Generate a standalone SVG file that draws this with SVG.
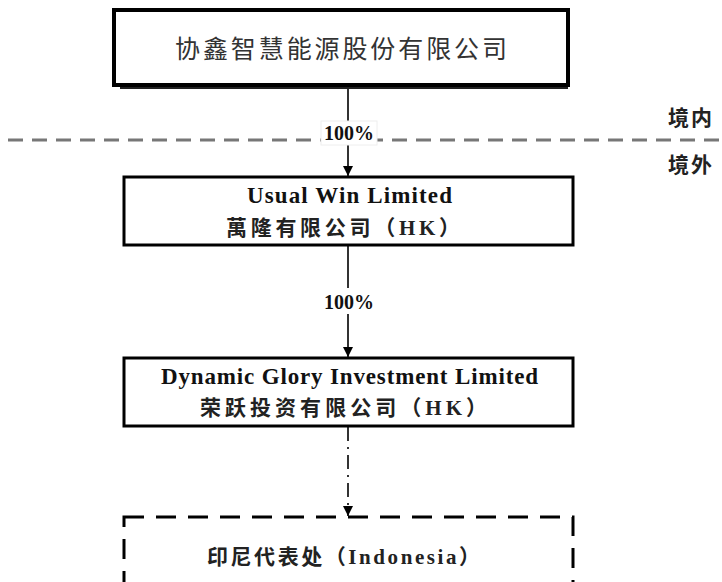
<svg xmlns="http://www.w3.org/2000/svg" width="722" height="582" viewBox="0 0 722 582">
<defs>
<style>
.box{fill:#fff;stroke:#000;stroke-width:3}
.en{font-family:"Liberation Serif","Times New Roman",serif;font-weight:bold;font-size:23px;fill:#111}
.cn{font-family:"Liberation Serif","Noto Sans CJK SC",serif;font-weight:bold;font-size:21px;fill:#222}
.lbl{font-family:"Liberation Serif","Times New Roman",serif;font-weight:bold;font-size:20px;fill:#111}
.conn{stroke:#333;stroke-width:2;fill:none}
</style>
<marker id="arr" viewBox="0 0 10 10" refX="10" refY="5" markerWidth="5" markerHeight="5" orient="auto" markerUnits="strokeWidth">
<path d="M0,0 L10,5 L0,10 z" fill="#000"/>
</marker>
</defs>
<rect width="722" height="582" fill="#fff"/>

<g id="boundary">
<line x1="8" y1="140" x2="722" y2="140" stroke="#777" stroke-width="3" stroke-dasharray="15 9"/>
<text x="668" y="125" class="cn" font-size="19" textLength="44">境内</text>
<text x="668" y="172" class="cn" font-size="19" textLength="44">境外</text>
</g>

<g id="connectors">
<line class="conn" x1="348" y1="88" x2="348" y2="176" marker-end="url(#arr)"/>
<rect x="321" y="121" width="56" height="24" fill="#fff" stroke="#eee" stroke-width="1"/>
<text x="349" y="140" class="lbl" text-anchor="middle">100%</text>
<line class="conn" x1="348" y1="246" x2="348" y2="357" marker-end="url(#arr)"/>
<rect x="320" y="288" width="58" height="26" fill="#fff"/>
<text x="349" y="309" class="lbl" text-anchor="middle">100%</text>
<line class="conn" x1="348" y1="427" x2="348" y2="516" stroke-dasharray="14 6 2 6" marker-end="url(#arr)"/>
</g>

<g id="node-xinergy">
<line x1="120" y1="88" x2="568" y2="88" stroke="#222" stroke-width="2"/>
<rect x="114" y="10" width="454" height="75" fill="#fff" stroke="#000" stroke-width="4"/>
<text x="175" y="58" font-family="'Noto Sans CJK SC','Noto Sans',sans-serif" font-size="25" fill="#333" textLength="332">协鑫智慧能源股份有限公司</text>
</g>

<g id="node-usualwin">
<rect class="box" x="124" y="177" width="449" height="68"/>
<text x="247" y="203" class="en" textLength="205">Usual Win Limited</text>
<text x="226" y="235" class="cn" textLength="234">萬隆有限公司（HK）</text>
</g>

<g id="node-dynamic">
<rect class="box" x="124" y="358" width="449" height="68"/>
<text x="161" y="384" class="en" textLength="377">Dynamic Glory Investment Limited</text>
<text x="200" y="415" class="cn" textLength="287">荣跃投资有限公司（HK）</text>
</g>

<g id="node-indonesia">
<rect x="124" y="517" width="449" height="100" fill="#fff" stroke="#000" stroke-width="3" stroke-dasharray="20 12"/>
<text x="207" y="564" class="cn" textLength="273">印尼代表处（Indonesia）</text>
</g>
</svg>
